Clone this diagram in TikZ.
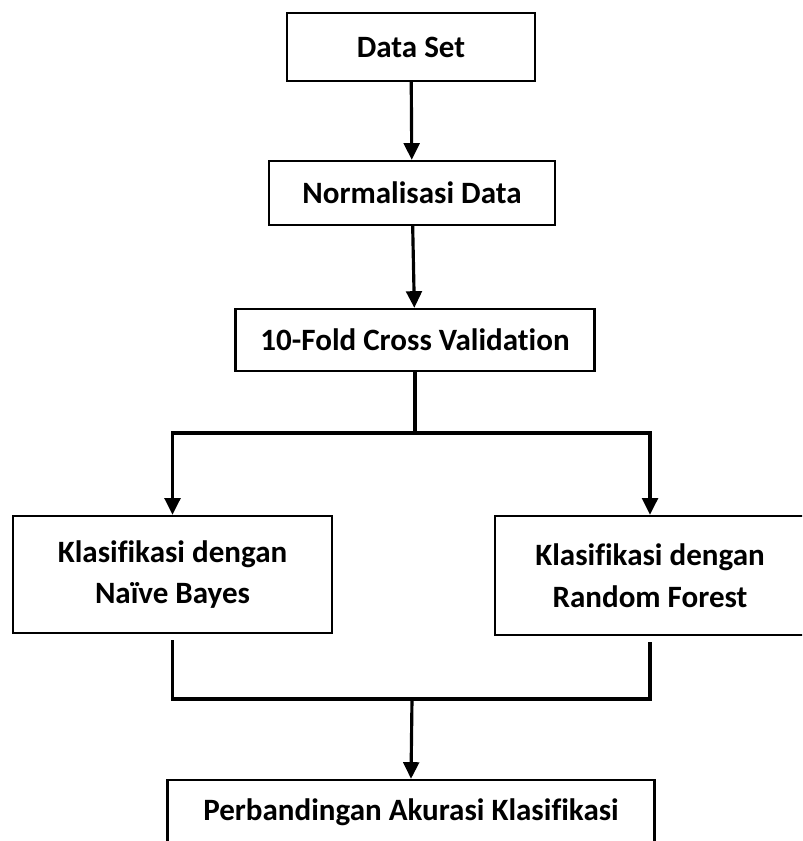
\documentclass[tikz,border=0pt]{standalone}
\usepackage{fontspec}
\setmainfont{Carlito}[Ligatures=NoCommon]
\usepackage{tikz}
\usetikzlibrary{arrows.meta}

\begin{document}
\begin{tikzpicture}[
    x=0.03cm, y=-0.03cm,
    block/.style={rectangle, draw, line width=2pt, fill=white, inner sep=0pt, align=center,
        font=\fontsize{26.5}{35.5}\selectfont\bfseries},
    conn/.style={draw, line width=2.7pt},
    line/.style={draw, line width=2.7pt, -{Triangle[length=0.5cm, width=0.47cm]}}
]
    \clip (0,0) rectangle (802,841);
    \useasboundingbox (0,0) rectangle (802,841);

    \node [block, minimum width=248*0.03cm, minimum height=68*0.03cm] (dataset) at (411,47) {Data Set};
    \node [block, minimum width=286*0.03cm, minimum height=64*0.03cm] (norm) at (412,193) {Normalisasi Data};
    \node [block, minimum width=359*0.03cm, minimum height=62*0.03cm] (kfold) at (415,340) {10-Fold Cross Validation};
    \node [block, minimum width=319*0.03cm, minimum height=117*0.03cm] (nb) at (172.5,574.5) {Klasifikasi dengan\\Naïve Bayes};
    \node [block, minimum width=310*0.03cm, minimum height=119*0.03cm] (rf) at (650,575.5) {Klasifikasi dengan\\Random Forest};
    \node [block, minimum width=487*0.03cm, minimum height=64*0.03cm] (compare) at (411,812) {Perbandingan Akurasi Klasifikasi};

    \coordinate (split) at (415,433);
    \coordinate (merge) at (412,699);

    \path [line] (dataset) -- (norm);
    \path [line] (norm) -- (kfold);
    \path [conn] (kfold.south) -- (split);
    \path [line] (split) -| (nb.north);
    \path [line] (split) -| (rf.north);
    \path [conn] ([yshift=-0.18cm]nb.south) |- (merge);
    \path [conn] ([yshift=-0.18cm]rf.south) |- (merge);
    \path [line] (merge) -- (compare.north);
\end{tikzpicture}
\end{document}
